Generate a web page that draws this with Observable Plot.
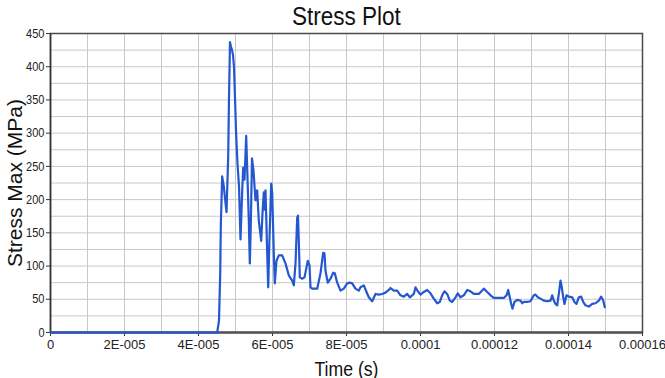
<!DOCTYPE html>
<html>
<head>
<meta charset="utf-8">
<script src="https://cdn.jsdelivr.net/npm/d3@7"></script>
<script src="https://cdn.jsdelivr.net/npm/@observablehq/plot@0.6"></script>
<style>
  html, body { margin: 0; padding: 0; background: #fff; }
  #wrap { width: 665px; font-family: "Liberation Sans", Arial, sans-serif; }
  #title { margin-left: 50px; width: 592px; height: 27px; text-align: center; font-size: 25px; line-height: 33px; color: #111; }
  #title span { display: inline-block; transform: scaleX(0.9); transform-origin: center; }
</style>
</head>
<body>
<div id="wrap">
  <div id="title"><span>Stress Plot</span></div>
  <div id="chart"></div>
</div>
<script>
// Time in microseconds (converted to seconds below)
const timeUs = [
  0, 45.05, 45.54, 45.87, 46.03, 46.40, 46.84, 47.11, 47.57, 48.03,
  48.24, 48.51, 48.78, 49.05, 49.32, 49.59, 49.86, 50.13, 50.54, 50.95,
  51.35, 51.81, 52.08, 52.43, 52.89, 53.24, 53.60, 53.87, 54.14, 54.46,
  54.86, 55.40, 55.86, 56.30, 56.95, 57.30, 57.65, 57.89, 58.11, 58.57,
  58.84, 59.19, 59.65, 59.92, 60.35, 60.62, 61.08, 61.70, 62.62, 63.51,
  64.41, 65.32, 65.76, 66.22, 66.68, 66.89, 67.11, 67.38, 68.03, 68.65,
  69.19, 69.54, 70.00, 70.27, 70.73, 72.08, 72.97, 73.70, 74.05, 74.32,
  74.95, 75.68, 76.41, 76.84, 77.49, 78.38, 79.27, 80.19, 80.89, 81.54,
  82.43, 83.32, 83.78, 84.68, 85.41, 86.03, 86.95, 87.84, 88.73, 89.65,
  90.54, 91.43, 91.89, 92.78, 93.70, 94.59, 95.49, 96.41, 97.11, 97.76,
  98.19, 98.65, 99.27, 100.00, 100.89, 101.81, 102.70, 103.59, 104.51, 105.22,
  105.86, 106.49, 107.21, 107.92, 108.57, 109.46, 110.08, 110.81, 111.70, 112.62,
  113.51, 114.41, 115.76, 117.11, 118.03, 118.92, 119.81, 121.16, 122.51, 123.24,
  123.70, 124.13, 124.51, 124.86, 125.41, 126.13, 127.03, 127.49, 127.92, 128.84,
  129.73, 130.62, 131.08, 131.70, 132.43, 133.32, 134.24, 135.14, 135.59, 136.03,
  136.49, 136.95, 137.38, 137.84, 138.19, 138.57, 138.92, 139.46, 140.08, 141.00,
  141.62, 142.16, 142.78, 143.43, 143.97, 144.59, 145.49, 146.41, 147.30, 148.19,
  148.84, 149.38, 149.81
];
// Stress Max (MPa)
const stress = [
  0, 0, 18, 89, 161, 235, 220, 205, 181, 266,
  352, 437, 430, 425, 418, 400, 354, 304, 254, 220,
  140, 213, 248, 230, 296, 233, 168, 104, 164, 262,
  244, 199, 214, 168, 138, 180, 211, 185, 214, 119,
  68, 143, 224, 210, 119, 74, 108, 116, 116, 104,
  86, 78, 71, 104, 173, 176, 138, 83, 81, 83,
  98, 108, 101, 68, 66, 66, 89, 120, 119, 93,
  75, 81, 90, 89, 75, 63, 66, 74, 75, 74,
  66, 63, 68, 71, 61, 53, 47, 58, 57, 58,
  60, 64, 67, 63, 63, 56, 54, 58, 53, 56,
  58, 68, 62, 57, 61, 64, 59, 51, 44, 46,
  56, 62, 58, 48, 46, 53, 59, 53, 56, 64,
  62, 58, 58, 66, 61, 56, 52, 52, 52, 56,
  64, 53, 43, 36, 46, 49, 48, 44, 46, 46,
  47, 56, 57, 53, 51, 48, 47, 48, 56, 48,
  43, 41, 58, 78, 68, 53, 43, 56, 54, 53,
  46, 43, 53, 54, 46, 41, 39, 43, 44, 48,
  54, 48, 38
];

const xTicks = [0, 2e-5, 4e-5, 6e-5, 8e-5, 1e-4, 1.2e-4, 1.4e-4, 1.6e-4];
const xTickLabels = ["0", "2E-005", "4E-005", "6E-005", "8E-005", "0.0001", "0.00012", "0.00014", "0.00016"];
const xGrid = [0, 1e-5, 2e-5, 3e-5, 4e-5, 5e-5, 6e-5, 7e-5, 8e-5, 9e-5, 1e-4, 1.1e-4, 1.2e-4, 1.3e-4, 1.4e-4, 1.5e-4, 1.6e-4];
const yTicks = [0, 50, 100, 150, 200, 250, 300, 350, 400, 450];
const yGrid = [0, 25, 50, 75, 100, 125, 150, 175, 200, 225, 250, 275, 300, 325, 350, 375, 400, 425, 450];

const data = timeUs.map((t, i) => ({ t: t * 1e-6, s: stress[i] }));

const chart = Plot.plot({
  width: 665,
  height: 351,
  marginTop: 6,
  marginBottom: 46,
  marginLeft: 50,
  marginRight: 23,
  style: { fontFamily: '"Liberation Sans", Arial, sans-serif', fontSize: "13px", color: "#222", background: "#fff", overflow: "visible" },
  x: { domain: [0, 1.6e-4] },
  y: { domain: [0, 450] },
  marks: [
    Plot.ruleX(xGrid, { stroke: "#c8c8c8", strokeWidth: 1 }),
    Plot.ruleY(yGrid, { stroke: "#c8c8c8", strokeWidth: 1 }),
    Plot.frame({ stroke: "#4a4a4a", strokeWidth: 1.5 }),
    Plot.axisX({ ticks: xTicks, tickFormat: (d, i) => xTickLabels[i], tickSize: 4, tickPadding: 3, label: null, stroke: "#333", fontSize: 13 }),
    Plot.axisY({ ticks: yTicks, tickSize: 4, tickPadding: 2, label: null, stroke: "#333", fontSize: 13 }),
    Plot.ruleX([0], { stroke: "#333", strokeWidth: 1.5 }),
    Plot.ruleY([0], { stroke: "#555", strokeWidth: 2.5 }),
    Plot.line(data, { x: "t", y: "s", stroke: "#2457d0", strokeWidth: 2.2 }),
    Plot.text(["Time (s)"], { frameAnchor: "bottom", textAnchor: "middle", dy: 43, fontSize: 21, fill: "#111" }),
    Plot.text(["Stress Max (MPa)"], { frameAnchor: "left", textAnchor: "middle", lineAnchor: "middle", rotate: -90, dx: -35, fontSize: 21, fill: "#111" })
  ]
});
document.getElementById("chart").appendChild(chart);

// Condense some texts a little, as in the reference rendering
function condense(el, k) {
  const len = el.getComputedTextLength();
  el.setAttribute("textLength", (len * k).toFixed(1));
  el.setAttribute("lengthAdjust", "spacingAndGlyphs");
}
chart.querySelectorAll("text").forEach((el) => {
  if (el.textContent === "Time (s)") condense(el, 0.84);
});
chart.querySelectorAll('g[aria-label="y-axis tick label"] text').forEach((el) => condense(el, 0.85));
</script>
</body>
</html>
